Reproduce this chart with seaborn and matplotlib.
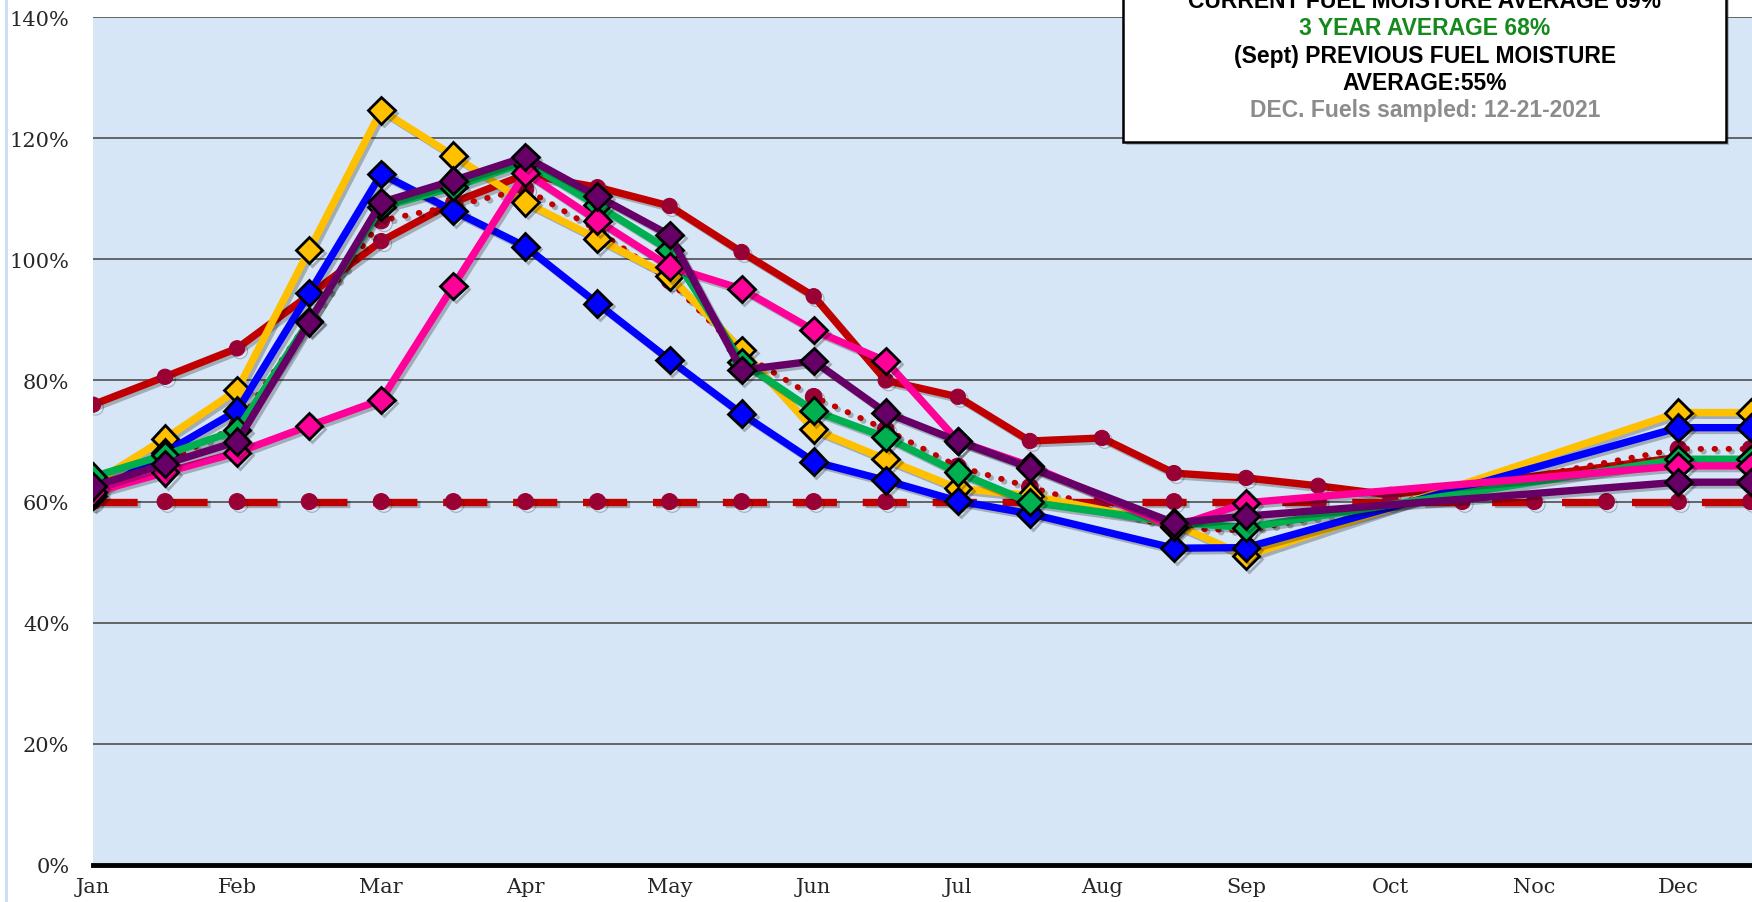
import numpy as np
import pandas as pd
import seaborn as sns
import matplotlib.pyplot as plt
import matplotlib.patheffects as pe
from matplotlib.patches import Rectangle
from matplotlib.lines import Line2D

nan = np.nan

# half-month sample positions, Jan .. mid-Dec
months = ['Jan', 'Feb', 'Mar', 'Apr', 'May', 'Jun', 'Jul', 'Aug', 'Sep', 'Oct', 'Noc', 'Dec']
x_pos = np.arange(24)

red_line = [76.0, 80.6, 85.3, 94.1, 103.0, 109.4, 114.0, 111.9, 108.8, 101.2, 93.9, 80.0,
            77.3, 70.0, 70.5, 64.7, 63.9, 62.6, 61.1, nan, nan, nan, 67.3, nan]
threshold = [60] * 24
avg_dotted = [61.5, 66.5, 72.5, 90.0, 106.4, 108.8, 111.6, 104.8, 96.5, 84.5, 77.3, 71.9,
              65.8, 62.4, nan, 55.6, 55.2, nan, nan, nan, nan, nan, 68.7, 68.7]
gold = [63.0, 70.4, 78.4, 101.5, 124.6, 117.1, 109.4, 103.4, 97.2, 85.0, 71.9, 67.0,
        62.2, 61.0, nan, 56.3, 51.0, nan, nan, nan, nan, nan, 74.7, 74.7]
blue = [61.0, 68.1, 75.0, 94.4, 114.1, 108.0, 102.1, 92.7, 83.4, 74.5, 66.6, 63.5,
        60.1, 58.0, nan, 52.3, 52.4, nan, nan, nan, nan, nan, 72.2, 72.2]
green = [64.1, 67.7, 71.8, 89.8, 108.6, 111.9, 116.0, 108.9, 101.5, 83.0, 75.0, 70.6,
         64.8, 59.9, nan, 56.6, 55.7, nan, nan, nan, nan, nan, 67.0, 67.0]
pink = [61.5, 64.8, 68.1, 72.5, 76.8, 95.6, 114.3, 106.4, 98.8, 95.1, 88.3, 83.2,
        70.0, 65.9, nan, 55.8, 59.8, nan, nan, nan, nan, nan, 65.9, 65.9]
purple = [62.5, 66.2, 69.9, 89.6, 109.4, 113.0, 116.9, 110.4, 104.0, 81.7, 83.2, 74.7,
          70.0, 65.6, nan, 56.5, 57.6, nan, nan, nan, nan, nan, 63.2, 63.2]

box_lines = [('CURRENT FUEL MOISTURE AVERAGE 69%', 'black'),
             ('3 YEAR AVERAGE 68%', '#15891c'),
             ('(Sept) PREVIOUS FUEL MOISTURE', 'black'),
             ('AVERAGE:55%', 'black'),
             ('DEC. Fuels sampled: 12-21-2021', '#8c8c8c')]

RED = '#C00000'
MAROON = '#990033'

sns.set_style('white')
plt.rcParams['font.family'] = ['DejaVu Serif']

fig = plt.figure(figsize=(17.52, 9.03), dpi=100)
ax = fig.add_axes([93 / 1752, 37 / 903, 1 - 93 / 1752, (866 - 18) / 903])
ax.set_facecolor('#d7e6f7')

shadow = [pe.SimpleLineShadow(offset=(2, -2), alpha=0.25), pe.Normal()]


def draw(vals, color, z, **kw):
    d = pd.DataFrame({'x': x_pos, 'y': vals}).dropna()
    sns.lineplot(data=d, x='x', y='y', ax=ax, color=color, estimator=None,
                 sort=False, zorder=z, path_effects=shadow, **kw)


draw(red_line, RED, 3, lw=5.3, marker='o', ms=11, mfc=MAROON, mec=MAROON)
draw(threshold, RED, 3, lw=5.3, dashes=(6, 3.5), marker='o', ms=11.5, mfc=MAROON, mec=MAROON)
draw(avg_dotted, RED, 4, lw=4.2, dashes=(0.1, 2.3), dash_capstyle='round',
     marker='o', ms=12, mfc=MAROON, mec=MAROON)
diamond = dict(lw=5.3, marker='D', ms=13.5, mec='black', mew=2)
draw(gold, '#FFC000', 5, **diamond)
draw(blue, '#0000FF', 6, **diamond)
draw(green, '#00B050', 7, **diamond)
draw(pink, '#FF0099', 8, **diamond)
draw(purple, '#660066', 9, **diamond)

ax.set_xlim(0, 23.02)
ax.set_ylim(0, 140)
ax.set_yticks(range(0, 141, 20))
ax.set_yticklabels([f'{v}%' for v in range(0, 141, 20)], fontsize=15)
ax.set_xticks(x_pos)
ax.set_xticklabels([months[i // 2] if i % 2 == 0 else '' for i in x_pos], fontsize=15)
ax.tick_params(axis='x', direction='in', length=7, width=2, color='black', pad=9)
ax.tick_params(axis='y', length=0, pad=17)
ax.set_xlabel('')
ax.set_ylabel('')
ax.grid(axis='y', color='#5a5a5a', lw=1.3, zorder=1)
ax.set_axisbelow(True)
for s in ['left', 'right', 'top']:
    ax.spines[s].set_visible(False)
ax.spines['bottom'].set_linewidth(3.5)
ax.spines['bottom'].set_color('black')
ax.spines['bottom'].set_zorder(10)

# left border line of the slide
fig.add_artist(Line2D([6 / 1752, 6 / 1752], [0, 1], color='#c9dcf2', lw=2))

# info box, cut off at the top
fig.add_artist(Rectangle((1123 / 1752, 1 - 143 / 903), (1726 - 1123) / 1752, 0.3,
                         facecolor='white', edgecolor='black', lw=1.8, zorder=20,
                         path_effects=[pe.SimplePatchShadow(offset=(2, -2), alpha=0.3), pe.Normal()]))
for k, (txt, c) in enumerate(box_lines):
    fig.text(1425 / 1752, 1 - (1 + 27.5 * k) / 903, txt, color=c, ha='center', va='center',
             fontsize=16.5, fontweight='bold', family=['Liberation Sans Narrow', 'Liberation Sans'],
             zorder=21)

fig.savefig('out.png', dpi=100)
